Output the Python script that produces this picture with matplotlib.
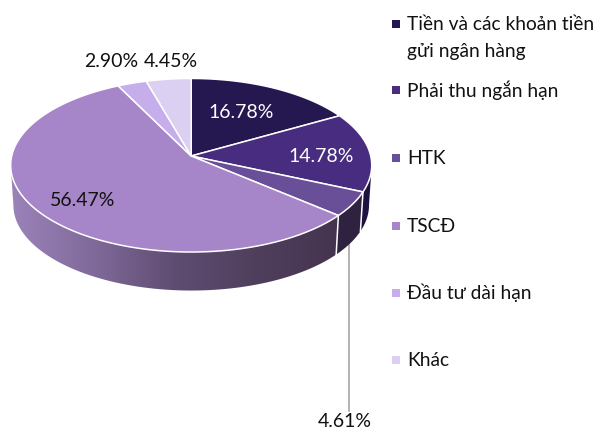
import numpy as np
import matplotlib
matplotlib.use("Agg")
import matplotlib.pyplot as plt
from matplotlib.colors import LinearSegmentedColormap
from matplotlib.patches import Polygon

plt.rcParams['font.family'] = ['Lato', 'Noto Sans', 'DejaVu Sans']

categories = ["Tiền và các khoản tiền\ngửi ngân hàng", "Phải thu ngắn hạn", "HTK",
              "TSCĐ", "Đầu tư dài hạn", "Khác"]
values = [16.78, 14.78, 4.61, 56.47, 2.90, 4.45]
labels = ["16.78%", "14.78%", "4.61%", "56.47%", "2.90%", "4.45%"]
colors = ["#251750", "#472c7f", "#694f97", "#a686c9", "#c6aeec", "#dcd0f2"]
wall_colors = ["#1e1340", "#1e1340", "#2e2240", None, None, None]

# label centre x and baseline y in pixels, and text colour
label_pos = [(241, 118), (321, 162), (345, 427), (83, 206), (111, 67), (171, 67)]
label_col = ["white", "white", "#111111", "#111111", "#111111", "#111111"]
legend_y = [24, 90, 158, 226, 293, 360]

# perspective of the 3d pie, fitted on the rim
CX, CY = 191.2, 156.0
RX, RY, K = 179.5, 85.8, 0.1066
DEPTH, SHRINK = 38.5, 0.985


def rim(theta, lower=False):
    """screen position of the rim, theta in degrees clockwise from 12 o'clock"""
    t = np.radians(theta)
    d = 1 + K * np.cos(t)
    x = RX * np.sin(t) / d
    y = -RY * np.cos(t) / d
    if lower:
        # ellipse centre sits lower than the spoke centre
        y0 = RY * K / (1 - K * K)
        return CX + x * SHRINK, CY + y0 + (y - y0) * SHRINK + DEPTH + 1.3
    return CX + x, CY + y


fig = plt.figure(figsize=(6, 4.32), dpi=100)
ax = fig.add_axes([0, 0, 1, 1])
ax.set_xlim(0, 600)
ax.set_ylim(432, 0)
ax.axis("off")

# leader line goes behind the pie
ax.plot([349, 349], [240, 411], color="#a6a6a6", lw=1.2, zorder=1)

edges = np.concatenate([[0], np.cumsum(values)]) / sum(values) * 360
side = np.degrees(np.arccos(-K))  # where the rim turns away from the viewer

wall_cmap = LinearSegmentedColormap.from_list(
    "wall", ["#9b83ba", "#806a9a", "#5f4c72", "#4f3f5c", "#443450"])

for i in range(len(values)):
    a, b = max(edges[i], side), min(edges[i + 1], 360 - side)
    if a >= b:
        continue
    th = np.linspace(a, b, 100)
    xu, yu = rim(th)
    xl, yl = rim(th, lower=True)
    pts = np.column_stack([np.r_[xu, xl[::-1]], np.r_[yu, yl[::-1]]])
    if wall_colors[i] is not None:
        ax.add_patch(Polygon(pts, fc=wall_colors[i], ec="none", zorder=2))
    else:
        grad = np.linspace(0, 1, 256)[None, :]
        im = ax.imshow(grad, cmap=wall_cmap, extent=(xu.min(), xu.max(), 300, 160),
                       aspect="auto", zorder=2)
        im.set_clip_path(Polygon(pts, transform=ax.transData))
    # white seam on the wall
    if a == edges[i] and i > 0:
        ax.plot([xu[0], xl[0]], [yu[0], yl[0]], color="white", lw=1.1, zorder=3)

ax.set_xlim(0, 600)
ax.set_ylim(432, 0)

for i in range(len(values)):
    th = np.linspace(edges[i], edges[i + 1], 100)
    x, y = rim(th)
    pts = np.column_stack([np.r_[CX, x], np.r_[CY, y]])
    ax.add_patch(Polygon(pts, fc=colors[i], ec="white", lw=1.1, joinstyle="round", zorder=4))

for i in range(len(values)):
    ax.text(label_pos[i][0], label_pos[i][1], labels[i], color=label_col[i], fontsize=14,
            ha="center", va="baseline", zorder=5)

for i in range(len(categories)):
    ax.scatter([396], [legend_y[i]], marker="s", s=26, color=colors[i], linewidths=0, zorder=5)
    for j, line in enumerate(categories[i].split("\n")):
        ax.text(407, legend_y[i] + 6.5 + 26 * j, line, color="#111111", fontsize=13.8,
                ha="left", va="baseline")

fig.savefig("out.png", dpi=100)
